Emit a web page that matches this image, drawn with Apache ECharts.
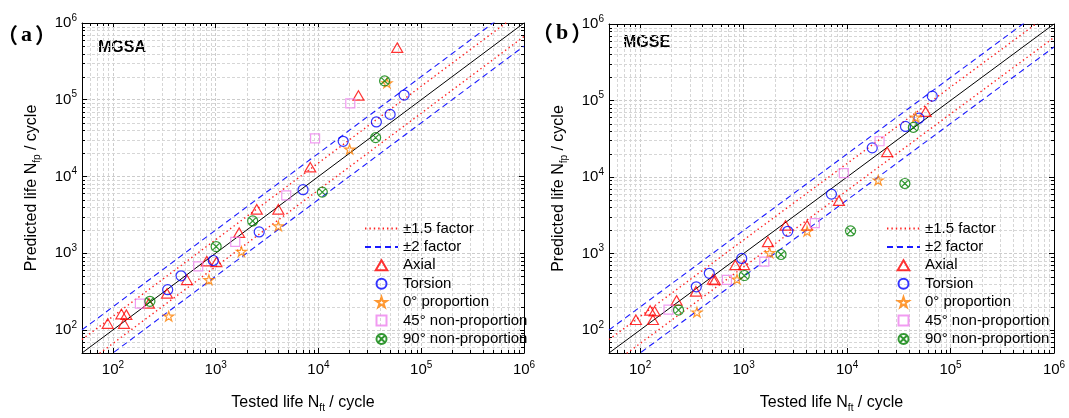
<!DOCTYPE html>
<html><head><meta charset="utf-8">
<script src="https://cdn.jsdelivr.net/npm/echarts@6/dist/echarts.min.js"></script>
<style>html,body{margin:0;padding:0;background:#fff}#c{width:1069px;height:418px}</style>
</head><body><div id="c"></div><script>
// ---------- data ----------
const AXIS_MIN = 50, AXIS_MAX = 1e6;
const majorTicks = [10, 100, 1000, 10000, 100000];
const minorMultipliers = [2, 3, 4, 5, 6, 7, 8, 9];
const factorValues = [1.5, 2];
const factorNames = ['\u00b11.5 factor', '\u00b12 factor'];
const seriesNames = ['Axial', 'Torsion', '0\u00b0 proportion', '45\u00b0 non-proportion', '90\u00b0 non-proportion'];
const panelLetters = ['a', 'b'];
const panelLabels = ['MGSA', 'MGSE'];

// panel (a) MGSA : [tested life, predicted life]
const mgsaAxial = [[89,121],[121,161],[135,158],[128,121],[224,222],[336,299],[525,450],[818,787],[1016,771],[1690,1850],[2510,3730],[4070,3730],[8320,13200],[24500,113700],[58400,478000]];
const mgsaTorsion = [[341,334],[460,507],[948,803],[2650,1890],[7080,6720],[17400,28700],[36600,51300],[49800,64400],[68100,115000]];
const mgsaProp0 = [[349,151],[858,450],[1780,1050],[4070,2260],[20100,22600],[46400,165000]];
const mgsaNonProp45 = [[183,220],[676,671],[1550,1400],[4860,5670],[9270,31400],[20400,89600]];
const mgsaNonProp90 = [[229,236],[1010,1220],[2290,2630],[10900,6250],[36000,32100],[44000,176000]];

// panel (b) MGSE
const mgseAxial = [[91,136],[133,136],[125,180],[138,176],[225,244],[346,320],[505,460],[528,450],[832,708],[1010,708],[1720,1420],[2540,2330],[4110,2330],[8340,4910],[24400,21300],[57400,71600]];
const mgseTorsion = [[349,367],[466,551],[959,861],[2670,1950],[7060,5970],[17500,24000],[36700,45800],[49500,58700],[66600,114000]];
const mgseProp0 = [[354,171],[863,461],[1790,1020],[4110,1950],[20000,9060],[45900,60400]];
const mgseNonProp45 = [[188,185],[690,453],[1585,781],[4880,2500],[9300,11200],[20600,29300]];
const mgseNonProp90 = [[235,182],[1016,515],[2300,970],[10800,1970],[36200,8220],[43700,44500]];

// ---------- styles ----------
const FONT = '"Liberation Sans", Arial, sans-serif';
const grids = [
  {left: 82, top: 23, width: 442, height: 334},
  {left: 609, top: 24, width: 445, height: 334}
];
const markerStyles = [
  {symbol: 'path://M10,0 L20,17.32 L0,17.32 Z', size: 11, color: '#ff0000'},
  {symbol: 'path://M0,10 A10,10 0 1 1 20,10 A10,10 0 1 1 0,10 Z', size: 10, color: '#0000ff'},
  {symbol: 'path://M50,0 L61.2,34.5 L97.6,34.5 L68.2,55.9 L79.4,90.5 L50,69.1 L20.6,90.5 L31.8,55.9 L2.4,34.5 L38.8,34.5 Z', size: 10, color: '#ff8000'},
  {symbol: 'path://M0,0 L20,0 L20,20 L0,20 Z', size: 9, color: '#ee82ee'},
  {symbol: 'path://M0,10 A10,10 0 1 1 20,10 A10,10 0 1 1 0,10 Z M2.93,2.93 L17.07,17.07 M17.07,2.93 L2.93,17.07', size: 10, color: '#008000'}
];
const factorStyles = [
  {color: '#ff2020', width: 1.4, type: [1.4, 3]},
  {color: '#1a1aff', width: 1.1, type: [6, 4]}
];

const minorValues = [];
majorTicks.forEach(m => minorMultipliers.forEach(k => {
  const v = m * k; if (v > AXIS_MIN && v < AXIS_MAX) minorValues.push(v);
}));
const minorData = [];
minorValues.forEach(v => { minorData.push([v, AXIS_MIN * 2, 0]); minorData.push([AXIS_MIN * 2, v, 1]); });

function renderMinor(params, api) {
  const kind = api.value(2);
  const cs = params.coordSys;
  const x0 = cs.x, y0 = cs.y, x1 = cs.x + cs.width, y1 = cs.y + cs.height;
  const gs = {stroke: '#d6d6d6', lineWidth: 1, lineDash: [3, 2]};
  const ts = {stroke: '#000', lineWidth: 1};
  const L = 3;
  if (kind === 0) {
    const x = Math.round(api.coord([api.value(0), AXIS_MIN])[0]) + 0.5;
    return {type: 'group', children: [
      {type: 'line', shape: {x1: x, y1: y0, x2: x, y2: y1}, style: gs},
      {type: 'line', shape: {x1: x, y1: y1, x2: x, y2: y1 - L}, style: ts},
      {type: 'line', shape: {x1: x, y1: y0, x2: x, y2: y0 + L}, style: ts}
    ]};
  }
  const y = Math.round(api.coord([AXIS_MIN, api.value(1)])[1]) + 0.5;
  return {type: 'group', children: [
    {type: 'line', shape: {x1: x0, y1: y, x2: x1, y2: y}, style: gs},
    {type: 'line', shape: {x1: x0, y1: y, x2: x0 + L, y2: y}, style: ts},
    {type: 'line', shape: {x1: x1, y1: y, x2: x1 - L, y2: y}, style: ts}
  ]};
}

function powLabel(v) {
  const l = Math.log10(v), e = Math.round(l);
  if (Math.abs(l - e) > 1e-6) return '';
  return '{b|10}{s|' + e + '}';
}
const richPow = {
  b: {fontSize: 15, fontFamily: FONT, color: '#000', lineHeight: 20},
  s: {fontSize: 10, fontFamily: FONT, color: '#000', verticalAlign: 'top', lineHeight: 10}
};
const richName = {
  n: {fontSize: 16, fontFamily: FONT, color: '#000', lineHeight: 20},
  sub: {fontSize: 10, fontFamily: FONT, color: '#000', verticalAlign: 'bottom', lineHeight: 12}
};

function makeAxis(gridIndex, position, main, isX) {
  const ax = {
    type: 'log', logBase: 10, gridIndex, position, min: AXIS_MIN, max: AXIS_MAX,
    axisLine: {show: true, onZero: false, lineStyle: {color: '#000', width: 1}},
    axisTick: {show: true, inside: true, length: 5, lineStyle: {color: '#000', width: 1}},
    axisLabel: main ? {show: true, formatter: powLabel, rich: richPow, margin: isX ? 7 : 5, showMinLabel: false} : {show: false},
    splitLine: {show: main, lineStyle: {color: '#cccccc', width: 1, type: [3, 2]}}
  };
  if (main) {
    ax.nameLocation = 'middle';
    ax.nameTextStyle = {rich: richName};
    if (isX) { ax.name = '{n|Tested life N}{sub|ft}{n| / cycle}'; ax.nameGap = 40; }
    else { ax.name = '{n|Predicted life N}{sub|fp}{n| / cycle}'; ax.nameGap = 40; ax.nameRotate = 90; }
  }
  return ax;
}

const xAxes = [], yAxes = [];
grids.forEach((g, i) => {
  xAxes.push(makeAxis(i, 'bottom', true, true));
  xAxes.push(makeAxis(i, 'top', false, true));
  yAxes.push(makeAxis(i, 'left', true, false));
  yAxes.push(makeAxis(i, 'right', false, false));
});

const panelData = [
  [mgsaAxial, mgsaTorsion, mgsaProp0, mgsaNonProp45, mgsaNonProp90],
  [mgseAxial, mgseTorsion, mgseProp0, mgseNonProp45, mgseNonProp90]
];

const hidden = {color: 'rgba(0,0,0,0)', borderColor: 'rgba(0,0,0,0)'};
const series = [];
panelData.forEach((sets, p) => {
  const ax = {xAxisIndex: p * 2, yAxisIndex: p * 2};
  series.push(Object.assign({type: 'custom', name: 'minor-grid', silent: true, z: 1, animation: false,
    encode: {x: 0, y: 1}, data: minorData, renderItem: renderMinor}, ax));
  series.push(Object.assign({type: 'line', name: '1:1', silent: true, z: 2, symbol: 'none', animation: false,
    itemStyle: hidden, data: [[AXIS_MIN, AXIS_MIN], [AXIS_MAX, AXIS_MAX]], lineStyle: {color: '#000', width: 1}}, ax));
  factorValues.forEach((f, i) => {
    [f, 1 / f].forEach(k => {
      series.push(Object.assign({type: 'line', name: factorNames[i], silent: true, z: 2, symbol: 'none', animation: false,
        itemStyle: hidden, data: [[AXIS_MIN, AXIS_MIN * k], [AXIS_MAX, AXIS_MAX * k]], lineStyle: factorStyles[i]}, ax));
    });
  });
  sets.forEach((d, i) => {
    const m = markerStyles[i];
    series.push(Object.assign({type: 'scatter', name: seriesNames[i], z: 3, animation: false,
      symbol: m.symbol, symbolSize: m.size, symbolKeepAspect: true, data: d,
      itemStyle: {color: 'rgba(255,255,255,0)', borderColor: m.color, borderWidth: 1.2}}, ax));
  });
});

const legendNames = factorNames.concat(seriesNames);
const legends = [359, 881].map(left => ({
  orient: 'vertical', left, top: 216, itemWidth: 33, itemHeight: 10, itemGap: 3.4,
  selectedMode: false, data: legendNames,
  textStyle: {fontFamily: FONT, fontSize: 15, color: '#000', lineHeight: 15}
}));

const titleRich = {
  p: {fontFamily: '"Noto Sans CJK SC"', fontWeight: 'bold', fontSize: 21, fill: '#000'},
  l: {fontFamily: '"Liberation Serif", serif', fontWeight: 'bold', fontSize: 22, fill: '#000', padding: [0, 3]}
};
const graphic = [
  {type: 'text', x: -3, y: 35, style: {text: '{p|\uff08}{l|' + panelLetters[0] + '}{p|\uff09}', rich: titleRich, verticalAlign: 'middle'}},
  {type: 'text', x: 532, y: 33, style: {text: '{p|\uff08}{l|' + panelLetters[1] + '}{p|\uff09}', rich: titleRich, verticalAlign: 'middle'}},
  {type: 'text', x: 98, y: 48, style: {text: panelLabels[0], font: 'bold 16px "Liberation Sans", Arial', fill: '#000', verticalAlign: 'middle'}},
  {type: 'text', x: 623, y: 43, style: {text: panelLabels[1], font: 'bold 16px "Liberation Sans", Arial', fill: '#000', verticalAlign: 'middle'}}
];

const chart = echarts.init(document.getElementById('c'), null, {renderer: 'canvas'});
chart.setOption({
  backgroundColor: '#fff', animation: false,
  grid: grids, xAxis: xAxes, yAxis: yAxes, series, legend: legends, graphic
});
</script></body></html>
